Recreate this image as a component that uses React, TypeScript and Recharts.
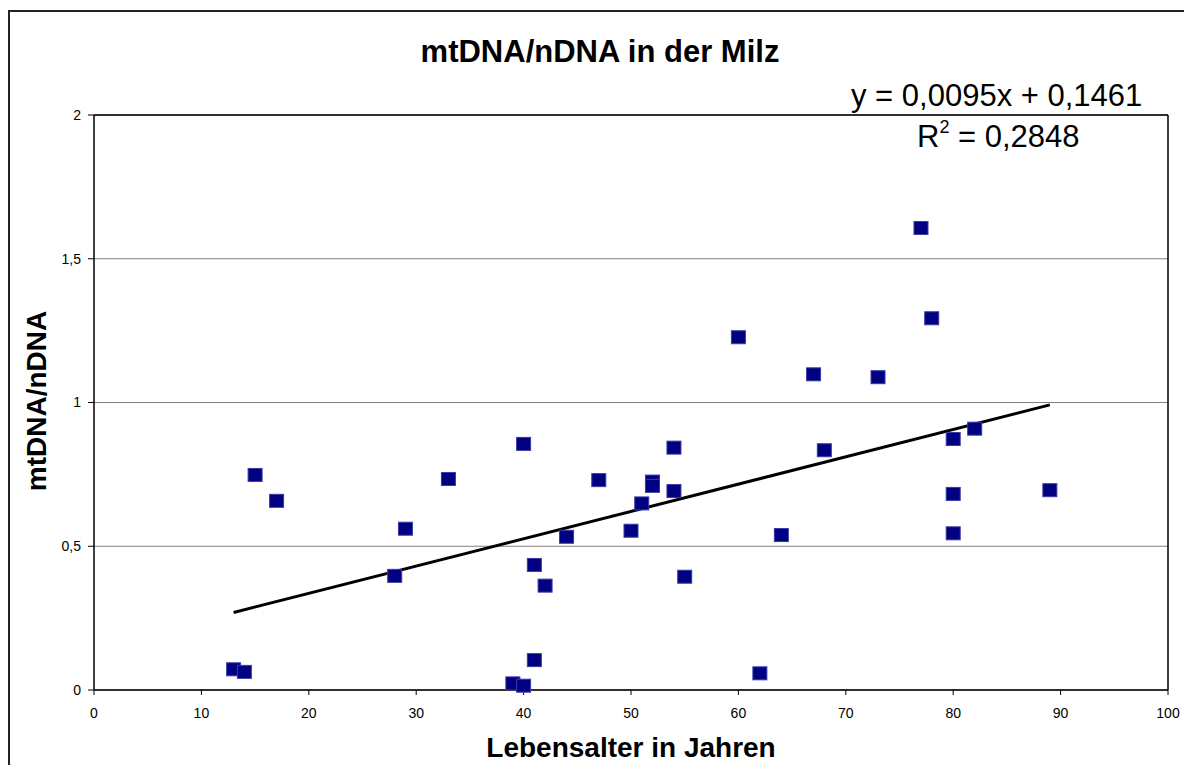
import React from 'react';
import {
  ScatterChart,
  Scatter,
  XAxis,
  YAxis,
  CartesianGrid,
  ReferenceLine,
  Label,
} from 'recharts';

// Data (Lebensalter in Jahren vs. mtDNA/nDNA)
const ages: number[] = [13, 14, 15, 17, 28, 29, 33, 39, 40, 40, 41, 41, 42, 44, 47, 50, 51, 52, 52, 54, 54, 55, 60, 62, 64, 67, 68, 73, 77, 78, 80, 80, 80, 82, 89];
const ratios: number[] = [0.072, 0.063, 0.748, 0.658, 0.397, 0.561, 0.734, 0.023, 0.015, 0.856, 0.435, 0.104, 0.363, 0.533, 0.73, 0.554, 0.649, 0.725, 0.71, 0.843, 0.692, 0.394, 1.227, 0.058, 0.539, 1.098, 0.834, 1.088, 1.607, 1.293, 0.873, 0.682, 0.545, 0.909, 0.695];

const xTicks: number[] = [0, 10, 20, 30, 40, 50, 60, 70, 80, 90, 100];
const yTicks: number[] = [0, 0.5, 1, 1.5, 2];

const trendSlope = 0.0095;
const trendIntercept = 0.1461;
const trendRange: number[] = [13, 89];

const title = 'mtDNA/nDNA in der Milz';
const xTitle = 'Lebensalter in Jahren';
const yTitle = 'mtDNA/nDNA';
const equation = 'y = 0,0095x + 0,1461';
const rSquared = '0,2848';

const points = ages.map((a, i) => ({ x: a, y: ratios[i] }));
const trendSegment = trendRange.map((x) => ({ x, y: trendSlope * x + trendIntercept }));

const FONT = '"Liberation Sans", Arial, Helvetica, sans-serif';

const Square = (props: any) => {
  const { cx, cy } = props;
  if (cx == null || cy == null) return <g />;
  return (
    <rect x={cx - 7} y={cy - 6.5} width={14} height={13} fill="#000080" stroke="#3a3aa8" strokeWidth={1} />
  );
};

const XTitle = (props: any) => {
  const vb = props.viewBox || { x: 0, y: 0, width: 0, height: 0 };
  return (
    <text x={vb.x + vb.width / 2} y={vb.y + 67} textAnchor="middle" fontFamily={FONT} fontWeight="bold" fontSize={28} fill="#000">
      {xTitle}
    </text>
  );
};

const YTitle = () => (
  <text x={46} y={401} transform="rotate(-90, 46, 401)" textAnchor="middle" fontFamily={FONT} fontWeight="bold" fontSize={28} fill="#000">
    {yTitle}
  </text>
);

const fmt = (v: number) => String(v).replace('.', ',');

export default function App() {
  return (
    <div style={{ position: 'absolute', left: 0, top: 0, width: 1184, height: 765, overflow: 'hidden', background: '#fff' }}>
      <div
        style={{
          position: 'absolute',
          left: 8,
          top: 10,
          width: 1200,
          height: 800,
          border: '2px solid #222',
          boxSizing: 'border-box',
        }}
      />
      <div style={{ position: 'absolute', left: 0, top: 0 }}>
        <ScatterChart width={1184} height={765} margin={{ top: 115, right: 16, bottom: 45, left: 34 }}>
          <CartesianGrid vertical={false} stroke="#808080" strokeWidth={1} />
          <XAxis
            type="number"
            dataKey="x"
            domain={[0, 100]}
            ticks={xTicks}
            interval={0}
            height={30}
            tickSize={5}
            tickMargin={13}
            axisLine={{ stroke: '#000', strokeWidth: 1.5 }}
            tickLine={{ stroke: '#000', strokeWidth: 1 }}
            tick={{ fill: '#000', fontSize: 14, fontFamily: FONT }}
          >
            <Label content={XTitle} />
          </XAxis>
          <YAxis
            type="number"
            dataKey="y"
            domain={[0, 2]}
            ticks={yTicks}
            interval={0}
            width={60}
            tickSize={6}
            tickMargin={7}
            tickFormatter={fmt}
            axisLine={{ stroke: '#000', strokeWidth: 1.5 }}
            tickLine={{ stroke: '#000', strokeWidth: 1 }}
            tick={{ fill: '#000', fontSize: 14, fontFamily: FONT }}
          >
            <Label content={YTitle} />
          </YAxis>
          <ReferenceLine y={2} stroke="#000" strokeWidth={1.5} />
          <ReferenceLine x={100} stroke="#000" strokeWidth={1.5} />
          <Scatter data={points} shape={Square} isAnimationActive={false} />
          <ReferenceLine segment={trendSegment} stroke="#000" strokeWidth={3} />
          <text x={600} y={62} textAnchor="middle" fontFamily={FONT} fontWeight="bold" fontSize={31} fill="#000">
            {title}
          </text>
          <text x={851} y={106} fontFamily={FONT} fontSize={31} fill="#000">
            {equation}
          </text>
          <text x={917} y={147} fontFamily={FONT} fontSize={31} fill="#000">
            R
            <tspan fontSize={18} dy={-14}>2</tspan>
            <tspan dy={14}>{' = ' + rSquared}</tspan>
          </text>
        </ScatterChart>
      </div>
    </div>
  );
}
